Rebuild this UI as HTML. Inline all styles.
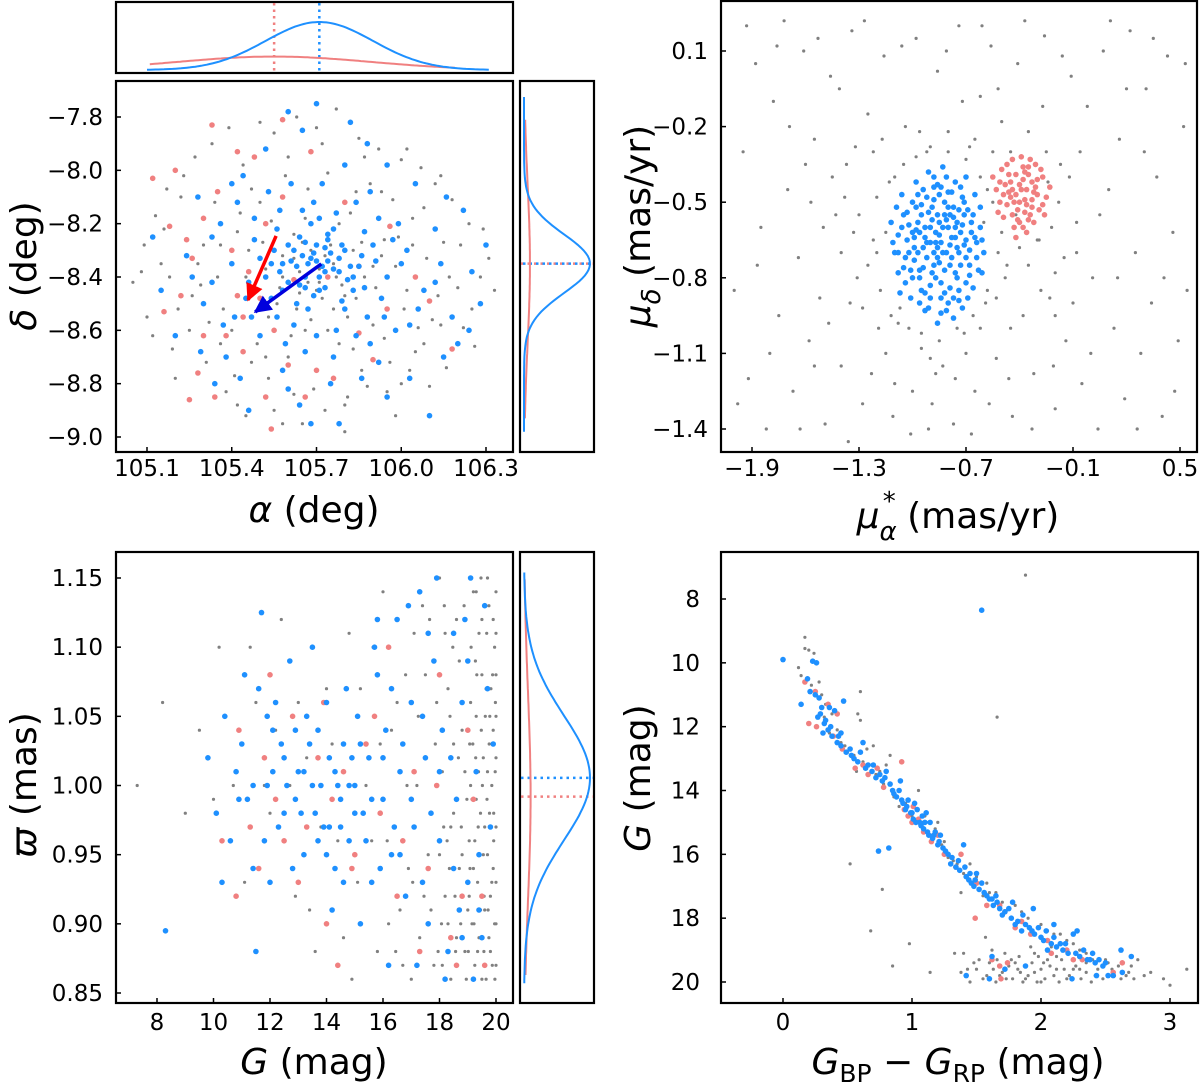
<!DOCTYPE html>
<html><head><meta charset="utf-8">
<style>
html,body{margin:0;padding:0;background:#fff;}
svg{display:block;font-family:"DejaVu Sans","Liberation Sans",sans-serif;}
</style></head>
<body>
<svg id="fig" width="1200" height="1082" viewBox="0 0 1200 1082" xmlns="http://www.w3.org/2000/svg"></svg>
<script>
// ---------- DATA ----------
// Panel 1: alpha (deg), delta (deg)
const p1Gray=[105.05,-8.42,105.08,-8.38,105.10,-8.55,105.13,-8.17,105.17,-8.07,105.19,-8.67,105.22,-8.10,105.25,-8.60,105.27,-7.95,105.29,-8.43,105.31,-8.72,105.33,-7.90,105.36,-8.28,105.37,-8.52,105.39,-7.84,105.41,-8.77,105.43,-8.16,105.45,-8.92,105.47,-8.07,105.49,-8.65,105.50,-7.82,105.52,-8.37,105.53,-8.78,105.55,-7.86,105.56,-8.50,105.58,-8.95,105.59,-8.02,105.61,-8.62,105.63,-7.80,105.64,-8.46,105.65,-8.95,105.67,-8.07,105.68,-8.56,105.70,-7.84,105.71,-8.37,105.73,-8.90,105.74,-8.01,105.76,-8.52,105.77,-7.77,105.79,-8.43,105.80,-8.98,105.82,-8.16,105.83,-8.67,105.85,-7.88,105.86,-8.27,105.88,-8.81,105.89,-8.05,105.91,-8.44,105.92,-7.92,105.94,-8.63,105.95,-8.83,105.97,-8.11,105.98,-8.36,106.00,-7.96,106.01,-8.52,106.03,-8.75,106.04,-8.18,106.06,-8.59,106.07,-7.99,106.09,-8.33,106.10,-8.81,106.12,-8.05,106.13,-8.47,106.15,-8.27,106.16,-8.74,106.18,-8.11,106.20,-8.44,106.22,-8.59,106.24,-8.20,106.26,-8.66,106.28,-8.40,106.31,-8.33,106.33,-8.45,105.15,-8.35,105.21,-8.52,105.35,-8.40,105.46,-8.30,105.54,-8.19,105.57,-8.44,105.62,-8.24,105.66,-8.60,105.72,-8.48,105.75,-8.28,105.81,-8.55,105.87,-8.40,105.93,-8.32,106.02,-8.45,106.08,-8.65,106.14,-8.58,105.40,-8.60,105.48,-8.45,105.60,-8.70,105.78,-8.65,105.68,-8.30,105.71,-8.42,105.64,-8.38,105.76,-8.35,105.50,-8.12,105.84,-8.08,105.30,-8.28,106.04,-8.28,105.62,-8.84,105.80,-8.88,105.42,-8.88,105.98,-8.92];
const p1GrayExtra=[105.09,-8.28,105.12,-8.62,105.16,-8.22,105.20,-8.78,105.23,-8.02,105.26,-8.47,105.32,-8.57,105.34,-8.12,105.38,-8.83,105.42,-8.23,105.44,-7.98,105.47,-8.72,105.51,-8.27,105.55,-8.90,105.58,-8.32,105.60,-7.95,105.63,-8.52,105.66,-8.18,105.69,-8.82,105.72,-7.90,105.74,-8.60,105.78,-8.20,105.81,-8.85,105.84,-8.48,105.87,-7.95,105.90,-8.58,105.93,-8.08,105.96,-8.72,105.99,-8.25,106.02,-7.92,106.05,-8.68,106.08,-8.14,106.11,-8.56,106.14,-8.02,106.17,-8.40,106.21,-8.28,106.25,-8.52,106.29,-8.22,105.18,-8.40,105.28,-8.35,105.45,-8.40,105.53,-8.55,105.65,-8.27,105.70,-8.45,105.77,-8.40,105.83,-8.30,105.90,-8.36,105.62,-8.33,105.73,-8.32,105.67,-8.42,105.80,-8.47,105.58,-8.40,105.94,-8.26,105.52,-8.70,105.86,-8.75,105.36,-8.65,106.00,-8.80];
const p1Red=[105.12,-8.03,105.18,-8.21,105.22,-8.47,105.16,-8.53,105.26,-8.33,105.30,-8.18,105.35,-8.08,105.40,-8.30,105.44,-8.55,105.38,-8.62,105.48,-7.95,105.52,-8.20,105.58,-8.10,105.62,-8.41,105.30,-8.62,105.28,-8.76,105.34,-8.85,105.44,-8.68,105.52,-8.85,105.60,-8.73,105.70,-8.75,105.76,-8.78,105.90,-8.71,105.85,-8.61,105.95,-8.52,106.05,-8.40,106.10,-8.49,106.18,-8.67,105.54,-8.97,105.68,-7.93,105.42,-7.93,105.33,-7.83,105.46,-8.38,105.20,-8.00,105.25,-8.86,105.74,-8.40,105.80,-8.12,105.96,-8.21,105.85,-8.36,105.42,-8.47,105.50,-8.48,105.55,-8.60,105.66,-8.85,105.58,-7.81,105.24,-8.26];
const p1Blue=[105.62,-8.30,105.68,-8.33,105.72,-8.36,105.75,-8.31,105.66,-8.40,105.70,-8.28,105.78,-8.38,105.64,-8.25,105.58,-8.35,105.80,-8.30,105.73,-8.44,105.69,-8.47,105.60,-8.42,105.85,-8.36,105.55,-8.30,105.76,-8.22,105.83,-8.45,105.67,-8.52,105.90,-8.28,105.52,-8.40,105.71,-8.18,105.95,-8.40,105.48,-8.26,105.62,-8.58,105.88,-8.55,105.77,-8.60,105.45,-8.48,106.02,-8.30,105.57,-8.15,105.84,-8.12,105.40,-8.35,106.08,-8.45,105.66,-8.68,105.92,-8.18,105.50,-8.62,105.98,-8.60,105.36,-8.20,106.12,-8.22,105.72,-8.05,105.58,-8.75,105.86,-8.78,105.30,-8.50,106.18,-8.55,105.44,-8.02,106.05,-8.05,105.64,-8.88,105.95,-8.85,105.24,-8.32,106.25,-8.38,105.38,-8.70,106.15,-8.70,105.52,-7.92,105.88,-7.90,105.78,-8.95,105.28,-8.10,106.22,-8.15,105.20,-8.62,106.28,-8.50,105.46,-8.90,106.10,-8.92,105.60,-7.78,105.82,-7.82,105.12,-8.25,106.30,-8.28,105.34,-8.80,105.15,-8.45,106.20,-8.65,105.70,-7.75,105.56,-8.22,105.74,-8.26,105.81,-8.41,105.63,-8.36,105.68,-8.20,105.79,-8.49,105.54,-8.48,105.87,-8.23,105.93,-8.48,105.47,-8.55,105.99,-8.20,105.42,-8.12,106.03,-8.58,105.61,-8.05,105.89,-8.65,105.33,-8.42,106.14,-8.35,105.59,-8.65,105.76,-8.70,105.69,-8.12,105.74,-8.34,105.71,-8.40,105.65,-8.32,105.78,-8.33,105.60,-8.28,105.82,-8.36,105.66,-8.44,105.73,-8.29,105.86,-8.32,105.57,-8.38];
const p1BlueExtra=[105.67,-8.35,105.70,-8.34,105.73,-8.38,105.69,-8.31,105.76,-8.37,105.64,-8.43,105.79,-8.28,105.71,-8.45,105.61,-8.34,105.83,-8.40,105.66,-8.27,105.74,-8.24,105.58,-8.45,105.87,-8.44,105.54,-8.35,105.80,-8.52,105.63,-8.50,105.91,-8.34,105.50,-8.33,105.77,-8.16,105.65,-8.15,105.94,-8.55,105.46,-8.42,105.84,-8.62,105.56,-8.55,106.00,-8.35,105.41,-8.55,105.97,-8.26,105.53,-8.08,105.89,-8.08,105.70,-8.62,106.06,-8.52,105.37,-8.58,105.48,-8.18,105.92,-8.72,105.60,-8.82,106.12,-8.42,105.26,-8.40,105.75,-8.80,105.68,-8.95,105.80,-7.98,105.65,-7.85,106.16,-8.10,105.29,-8.68,105.43,-8.78,106.03,-8.78,105.95,-7.98,105.40,-8.05,105.33,-8.25,106.24,-8.60];
const p1Arrows=[[105.557,-8.246,105.458,-8.486,'#ff0000'],[105.717,-8.351,105.483,-8.531,'#0000dd']];
const p1XTicks=[105.1,105.4,105.7,106.0,106.3];
const p1XLabels=['105.1','105.4','105.7','106.0','106.3'];
const p1YTicks=[-7.8,-8.0,-8.2,-8.4,-8.6,-8.8,-9.0];
const p1YLabels=['−7.8','−8.0','−8.2','−8.4','−8.6','−8.8','−9.0'];
// Marginal gaussians: [mu, sigma, amp, from, to]
const topBlueFit=[105.71,0.19,1.0,105.1,106.31];
const topRedFit=[105.55,0.34,0.28,105.11,106.19];
const rightBlueFit=[-8.35,0.11,1.0,-7.725,-8.98];
const rightRedFit=[-8.35,0.30,0.09,-7.81,-8.93];
// Panel 2: pmra, pmdec
const p2Gray=[-2.00,-0.85,-1.95,-0.30,-1.92,-1.20,-1.88,0.05,-1.85,-0.60,-1.82,-1.40,-1.78,-0.10,-1.75,-0.95,-1.72,0.22,-1.70,-0.45,-1.67,-1.25,-1.64,-0.72,-1.61,0.10,-1.58,-1.05,-1.55,-0.25,-1.52,-0.88,-1.49,-1.38,-1.46,0.00,-1.43,-0.55,-1.40,-1.15,-1.37,-0.35,-1.34,0.18,-1.31,-0.80,-1.28,-1.30,-1.25,-0.15,-1.22,-0.65,-1.19,-1.00,-1.16,0.08,-1.13,-0.42,-1.10,-1.22,-1.07,-0.92,-1.04,-0.20,-1.01,-1.42,-0.98,0.15,-0.95,-1.08,-0.92,-0.30,-0.89,-1.30,-0.86,0.02,-0.83,-1.15,-0.80,-0.22,-0.77,-1.38,-0.74,0.20,-0.71,-1.02,-0.68,-0.28,-0.65,-1.25,-0.62,-0.08,-0.59,-0.90,-0.56,0.12,-0.53,-1.12,-0.50,-0.18,-0.47,-0.75,-0.44,-1.35,-0.41,0.05,-0.38,-0.95,-0.35,-0.22,-0.32,-1.18,-0.29,-0.65,-0.26,0.16,-0.23,-0.88,-0.20,-1.32,-0.17,-0.35,-0.14,-1.05,-0.11,0.00,-0.08,-0.58,-0.05,-1.22,-0.02,-0.12,0.01,-0.80,0.04,-1.40,0.07,0.10,0.10,-0.45,0.13,-1.00,0.16,-0.25,0.19,-1.28,0.22,0.18,0.25,-0.70,0.28,-1.10,0.31,-0.05,0.34,-0.90,0.37,-0.40,0.40,-1.35,0.43,0.08,0.46,-0.62,0.49,-1.05,0.52,-0.20,0.54,-0.85,-1.30,-0.55,-1.25,-0.75,-1.20,-0.48,-1.18,-0.85,-1.15,-0.62,-1.12,-0.95,-1.10,-0.40,-1.08,-0.98,-1.05,-0.35,-1.02,-1.00,-0.98,-0.32,-0.95,-1.02,-0.90,-0.28,-0.85,-1.05,-0.80,-0.30,-0.75,-1.00,-0.70,-0.33,-0.66,-0.95,-0.62,-0.40,-0.58,-0.85,-0.55,-0.50,-0.52,-0.70,-0.50,-0.62,-0.48,-0.80,-0.45,-0.30,-0.40,-0.68,-0.35,-0.75,-0.30,-0.65,-0.25,-0.30,-0.22,-0.60,-0.18,-0.50,-0.15,-0.72,-0.55,-0.30,-0.60,-0.58,-1.22,-0.30,-1.35,-0.90,-1.40,-0.70,-1.45,-0.40,-0.28,-0.85,-0.12,-0.40,-0.65,-0.25,-1.15,-1.10,-0.90,-1.12,-0.70,-1.10,-0.45,-1.00,-0.20,-0.95,-1.50,-0.60,-0.08,-0.70,-1.60,-0.35,-1.55,-1.15];
const p2GrayExtra=[-1.98,-1.30,-1.93,0.20,-1.87,-0.75,-1.80,-1.10,-1.76,0.12,-1.69,-0.20,-1.63,-1.40,-1.57,-0.50,-1.53,0.15,-1.47,-0.98,-1.41,-0.05,-1.36,-1.45,-1.32,-0.28,-1.27,0.22,-1.23,-1.18,-1.17,-0.25,-1.11,-1.35,-1.06,0.12,-1.00,-1.25,-0.96,-0.22,-0.91,-1.40,-0.87,-1.18,-0.81,0.10,-0.76,-1.20,-0.72,-0.10,-0.67,-1.42,-0.61,0.20,-0.57,-1.30,-0.52,-0.05,-0.46,-1.20,-0.42,-0.55,-0.37,0.22,-0.33,-1.40,-0.27,-0.12,-0.21,-1.15,-0.16,0.08,-0.10,-0.90,-0.06,-0.30,0.00,-1.10,0.05,-0.55,0.11,0.22,0.15,-0.80,0.20,-0.05,0.26,-1.40,0.30,-0.30,0.35,0.15,0.41,-0.80,0.47,-1.25,0.53,0.05,-1.33,-0.62,-1.28,-0.92,-1.20,-0.70,-0.58,-0.45,-0.53,-0.88,-0.20,-0.78,-0.24,-0.42,-1.38,-0.48,-0.62,-1.00];
const p2Red=[-0.39,-0.45,-0.33,-0.42,-0.45,-0.48,-0.36,-0.51,-0.42,-0.39,-0.30,-0.47,-0.48,-0.43,-0.38,-0.36,-0.34,-0.55,-0.44,-0.55,-0.27,-0.40,-0.51,-0.50,-0.40,-0.58,-0.31,-0.35,-0.47,-0.35,-0.25,-0.48,-0.53,-0.45,-0.36,-0.45,-0.42,-0.47,-0.35,-0.39,-0.45,-0.42,-0.29,-0.53,-0.49,-0.56,-0.39,-0.32,-0.32,-0.58,-0.23,-0.44,-0.55,-0.40,-0.43,-0.60,-0.37,-0.49,-0.41,-0.53,-0.33,-0.49,-0.47,-0.51,-0.28,-0.37,-0.50,-0.37,-0.36,-0.62,-0.44,-0.33,-0.26,-0.55,-0.38,-0.41,-0.31,-0.44,-0.46,-0.46,-0.52,-0.54,-0.34,-0.33,-0.42,-0.64,-0.40,-0.50,-0.35,-0.57];
const p2RedExtra=[-0.40,-0.43,-0.37,-0.54,-0.32,-0.46,-0.46,-0.39,-0.43,-0.50,-0.30,-0.41,-0.49,-0.47,-0.35,-0.36,-0.41,-0.57,-0.27,-0.51,-0.38,-0.60,-0.44,-0.45,-0.33,-0.52,-0.51,-0.42,-0.37,-0.38];
const p2Blue=[-0.85,-0.63,-0.80,-0.60,-0.90,-0.66,-0.75,-0.58,-0.95,-0.55,-0.70,-0.65,-1.00,-0.62,-0.82,-0.50,-0.88,-0.75,-0.78,-0.72,-0.92,-0.48,-0.72,-0.48,-1.02,-0.70,-0.68,-0.75,-0.84,-0.82,-0.96,-0.80,-0.74,-0.85,-1.05,-0.55,-0.66,-0.55,-0.86,-0.43,-0.98,-0.42,-0.76,-0.42,-1.08,-0.63,-0.64,-0.66,-0.90,-0.88,-0.80,-0.90,-1.04,-0.82,-0.70,-0.82,-0.86,-0.55,-0.79,-0.67,-0.93,-0.60,-0.73,-0.62,-0.99,-0.73,-0.83,-0.70,-0.77,-0.52,-0.89,-0.52,-0.94,-0.68,-0.68,-0.69,-1.10,-0.70,-0.62,-0.60,-0.81,-0.40,-0.91,-0.38,-1.06,-0.47,-0.65,-0.47,-0.84,-0.94,-0.96,-0.90,-0.72,-0.92,-1.08,-0.78,-0.61,-0.78,-0.87,-0.62,-0.76,-0.78,-1.00,-0.50,-0.71,-0.55,-0.97,-0.58,-0.82,-0.77,-0.88,-0.70,-0.78,-0.64,-0.92,-0.72,-1.03,-0.65,-0.67,-0.62,-0.85,-0.47,-0.74,-0.70,-0.95,-0.85,-0.79,-0.84,-1.01,-0.88,-0.66,-0.84,-1.12,-0.58,-0.60,-0.70,-0.83,-0.36,-0.94,-0.45,-0.70,-0.40,-1.09,-0.52,-0.86,-0.98,-0.77,-0.96,-0.98,-0.52,-0.81,-0.57,-0.90,-0.60,-0.73,-0.75,-0.87,-0.80,-0.99,-0.64,-0.64,-0.72,-0.80,-0.46,-1.05,-0.76,-0.69,-0.88,-0.93,-0.93,-1.11,-0.66,-0.62,-0.52,-0.84,-0.66,-0.76,-0.60,-0.91,-0.54,-0.96,-0.77,-0.71,-0.50,-0.88,-0.44,-1.07,-0.86,-0.82,-0.86,-0.75,-0.68,-0.97,-0.70,-0.86,-0.72,-0.79,-0.55];
const p2BlueExtra=[-0.83,-0.60,-0.87,-0.66,-0.81,-0.70,-0.89,-0.57,-0.77,-0.56,-0.93,-0.64,-0.72,-0.59,-0.98,-0.61,-0.85,-0.74,-0.80,-0.52,-0.94,-0.76,-0.70,-0.72,-1.02,-0.59,-0.75,-0.80,-0.90,-0.83,-0.84,-0.88,-0.97,-0.47,-0.78,-0.46,-0.67,-0.58,-1.04,-0.72,-0.63,-0.77,-0.91,-0.92,-0.74,-0.89,-1.06,-0.60,-0.88,-0.40,-0.73,-0.44,-1.00,-0.80,-0.65,-0.64,-0.82,-0.55,-0.95,-0.51,-0.79,-0.75,-0.86,-0.68,-0.92,-0.66,-0.71,-0.67,-0.99,-0.68,-0.76,-0.64,-0.89,-0.78,-1.08,-0.70,-0.69,-0.53,-0.84,-0.44,-0.96,-0.62,-0.81,-0.93,-0.61,-0.65,-1.03,-0.54,-0.77,-0.88,-0.88,-0.49,-0.93,-0.86,-0.68,-0.79,-0.85,-0.58,-0.74,-0.53,-1.01,-0.77];
const p2XTicks=[-1.9,-1.3,-0.7,-0.1,0.5];
const p2XLabels=['−1.9','−1.3','−0.7','−0.1','0.5'];
const p2YTicks=[0.1,-0.2,-0.5,-0.8,-1.1,-1.4];
const p2YLabels=['0.1','−0.2','−0.5','−0.8','−1.1','−1.4'];
// Panel 3: G, parallax
const p3Gray=[9.0,0.98,7.3,1.00,8.2,1.06,9.5,1.04,10.2,1.10,10.7,1.00,11.1,0.93,11.5,1.06,12.0,0.98,12.4,1.12,12.9,0.92,13.3,1.02,13.6,0.88,14.0,1.07,14.4,0.96,14.8,1.11,15.1,0.93,15.4,1.00,15.8,0.88,16.0,1.14,16.3,1.04,16.6,0.91,16.8,1.08,17.0,0.86,17.2,1.00,17.4,1.13,17.6,0.95,17.8,0.87,18.0,1.15,18.1,1.01,18.2,0.92,18.3,1.07,18.4,0.86,18.5,0.98,18.6,1.12,18.7,0.94,18.8,1.04,18.9,0.88,19.0,1.09,19.05,0.96,19.1,1.00,19.15,0.90,19.2,1.14,19.25,0.87,19.3,1.05,19.35,0.93,19.4,1.11,19.45,0.98,19.5,0.86,19.55,1.02,19.6,0.91,19.65,1.07,19.7,0.95,19.75,1.13,19.8,0.88,19.85,1.00,19.9,0.94,19.95,1.10,20.0,0.97,20.0,0.87,19.9,1.04,19.8,0.92,19.7,1.01,19.6,0.97,19.5,1.08,19.4,0.89,19.3,0.99,19.2,0.94,19.1,1.06,19.0,0.91,18.9,1.01,18.8,0.95,18.7,1.09,18.6,0.89,18.5,1.03,18.4,0.97,18.3,0.90,18.2,1.11,18.1,0.87,18.0,0.95,17.9,1.06,17.7,0.91,17.5,1.08,17.3,0.89,17.1,1.11,16.9,0.94,16.7,0.87,16.5,1.06,16.2,0.90,15.9,1.03,15.6,0.96,15.2,1.07,14.6,0.89,14.2,1.03,13.8,0.97,13.0,1.06,12.2,1.04,11.8,1.00,10.0,0.99,19.95,0.90,19.85,0.93,19.75,0.89,19.65,0.86,19.55,0.95,19.45,0.91,19.35,0.88,19.25,0.96,19.15,0.99,19.05,0.92,19.9,1.12,19.7,1.15,19.5,1.12,19.3,1.14,19.98,1.06,19.88,1.08,19.78,1.05,19.68,0.99,19.58,0.92,19.48,1.04,19.38,1.01,19.28,1.02,19.18,1.03,19.08,0.94,18.95,0.86,18.75,0.90,18.55,0.92,18.35,0.94,18.15,0.97,17.95,0.88,20.0,1.02,20.0,1.08,20.0,0.93,20.0,1.14,19.92,0.98];
const p3GrayExtra=[19.02,0.88,19.12,1.10,19.22,0.90,19.32,1.08,19.42,0.95,19.52,1.00,19.62,1.05,19.72,0.91,19.82,1.07,19.92,0.96,19.97,1.01,19.87,0.87,19.77,0.98,19.67,1.11,19.57,0.88,19.47,1.15,19.37,0.97,19.27,1.09,19.17,0.86,19.07,1.03,18.97,0.99,18.87,1.13,18.77,0.97,18.67,1.02,18.57,0.88,18.47,1.10,18.37,1.05,18.27,0.96,18.17,1.13,18.07,0.90,17.85,1.03,17.65,1.12,17.45,0.92,17.25,1.05,17.05,0.93,16.85,1.00,16.45,0.88,16.15,0.96,15.65,1.10,14.9,0.86,13.4,0.91,12.7,1.00,11.3,1.10,20.0,0.90,20.0,1.05,20.0,1.11,19.96,0.86,19.76,1.03];
const p3Red=[10.3,0.96,10.9,1.04,11.3,0.97,11.8,1.02,12.2,0.99,12.8,1.05,13.3,0.97,13.7,1.02,14.2,0.99,14.6,1.01,14.9,0.94,15.4,1.03,15.9,0.98,16.2,1.10,16.7,0.96,17.1,1.01,17.6,0.94,18.0,1.08,18.4,0.89,18.8,0.92,19.2,0.99,19.6,0.87,10.8,0.92,12.0,1.08,13.0,0.93,14.0,0.90,15.0,0.95,16.5,0.92,17.3,0.88,18.6,0.87,19.0,1.04,11.6,0.94,13.9,1.06,15.7,1.05,17.9,1.00,14.4,0.87,12.5,0.96,19.5,0.92];
const p3Blue=[9.8,1.02,10.1,0.98,10.4,1.05,10.6,0.96,10.8,1.01,11.0,1.03,11.2,0.99,11.4,0.94,11.6,1.07,11.7,1.125,11.9,1.00,12.1,1.04,12.3,0.97,12.5,1.02,12.7,1.09,12.9,0.99,13.0,1.01,13.2,0.95,13.4,1.03,13.6,0.98,13.8,1.00,14.0,1.06,14.1,0.97,14.3,1.01,14.5,0.99,14.6,1.03,14.8,0.96,15.0,1.00,15.1,1.05,15.3,0.98,15.5,1.02,15.6,0.93,15.8,1.08,16.0,0.99,16.1,1.04,16.3,0.95,16.5,1.12,16.6,1.01,16.8,0.92,17.0,1.06,17.1,0.97,17.3,1.14,17.5,1.02,17.6,0.90,17.8,1.09,18.0,0.96,18.1,1.04,18.3,0.88,18.5,1.11,18.6,0.99,18.8,1.06,19.0,0.93,19.1,1.15,19.3,1.01,19.5,0.89,19.7,1.07,19.8,0.97,8.3,0.895,11.5,0.88,12.0,0.93,13.5,1.10,14.2,0.91,15.2,0.90,16.2,0.87,17.2,0.87,18.2,0.86,19.2,0.86,13.1,0.98,14.4,1.00,14.9,1.02,15.4,0.96,12.6,1.00,13.9,0.97,16.7,1.03,17.7,0.98,18.4,1.02,19.4,0.95,10.3,0.93,11.1,1.08,12.2,1.06,15.7,1.10,16.9,1.13,17.9,1.15,18.9,1.12,19.6,1.13,14.7,1.07,13.3,1.05,12.8,0.94,11.8,0.96,16.4,0.97,17.4,1.05,18.7,0.91,19.9,1.03,15.9,0.94,14.0,0.95,12.4,1.03];
const p3BlueExtra=[12.9,1.04,13.5,1.00,13.7,0.96,14.1,1.02,14.5,0.97,14.3,0.94,15.0,0.98,15.2,1.03,15.6,0.99,14.8,1.00,13.2,1.01,12.5,0.98,11.9,1.05,11.4,1.00,16.0,1.02,16.6,0.95,17.0,0.99,17.4,0.93,18.0,1.01,18.5,0.94,19.0,1.09,19.4,0.91,17.6,1.11,18.8,0.89,16.3,1.07,15.8,1.12,13.7,1.04,14.6,0.93,12.1,1.01,10.9,0.99];
const p3XTicks=[8,10,12,14,16,18,20];
const p3XLabels=['8','10','12','14','16','18','20'];
const p3YTicks=[1.15,1.10,1.05,1.00,0.95,0.90,0.85];
const p3YLabels=['1.15','1.10','1.05','1.00','0.95','0.90','0.85'];
const r3BlueFit=[1.0055,0.045,1.0,1.154,0.857];
const r3RedFit=[0.992,0.075,0.1,1.149,0.863];
// Panel 4: BP-RP, G
const p4Gray=[0.17,9.2,0.17,9.55,0.2,9.6,0.24,9.7,0.12,10.15,0.14,10.4,0.22,10.7,0.28,10.6,0.30,11.0,0.33,11.3,0.60,10.9,0.38,11.6,0.42,12.1,0.45,12.5,0.50,12.8,0.58,11.6,0.60,11.8,0.65,12.7,0.70,12.6,0.57,13.4,0.75,13.4,0.80,13.2,0.83,12.9,0.86,14.2,0.90,14.5,1.05,14.0,1.10,14.8,1.18,15.2,1.20,15.0,1.25,15.6,1.32,16.2,1.35,16.3,1.38,17.2,1.45,16.3,1.50,16.7,1.55,17.3,1.58,16.9,1.65,17.2,1.80,17.6,1.85,17.8,2.00,18.2,2.05,18.4,2.15,18.5,2.20,18.7,2.30,19.0,2.40,19.3,2.60,19.5,2.75,19.3,2.85,19.7,2.95,19.9,3.00,20.1,3.13,19.6,0.52,16.3,0.77,17.1,0.68,18.4,0.98,18.8,0.85,19.5,1.14,19.7,1.33,19.1,1.40,19.1,1.57,18.6,1.88,7.25,1.66,11.7,1.38,19.7,1.45,20.0,1.50,19.6,1.55,19.9,1.60,19.4,1.65,20.0,1.70,19.7,1.75,19.5,1.78,19.9,1.82,19.6,1.86,20.0,1.90,19.8,1.93,19.4,1.97,20.0,2.00,19.6,2.03,19.9,2.07,19.5,2.10,19.8,2.14,20.0,2.18,19.6,2.22,19.8,2.27,19.5,2.31,19.9,2.35,19.7,2.39,20.0,2.44,19.6,2.48,19.9,2.52,19.4,2.57,19.8,2.66,19.8,2.70,19.5,2.80,19.8,1.62,19.0,1.72,19.1,1.83,19.2,1.95,19.1,2.05,19.3,2.12,19.2,2.25,19.6,2.35,19.4,1.52,19.3,1.68,19.8,1.88,19.9,2.00,20.0,1.77,19.3,1.92,18.9,2.08,18.9];
const p4GrayExtra=[0.32,11.7,0.36,12.2,0.48,12.6,0.55,12.9,0.62,13.1,0.72,13.5,0.78,13.8,0.95,14.4,1.00,14.8,1.08,15.0,1.15,15.4,1.23,15.7,1.28,16.1,1.40,16.6,1.48,16.9,1.60,17.2,1.70,17.5,1.90,18.0,1.98,18.3,2.10,18.5,2.25,18.8,2.35,19.1,2.50,19.3,2.68,19.7,1.43,19.6,1.58,19.8,1.63,19.6,1.73,19.9,1.80,19.4,1.95,19.7,2.02,19.4,2.12,19.6,2.20,19.9,2.30,19.6,2.42,19.8,2.55,19.6,2.62,19.9,2.72,19.9,1.48,19.4,1.98,19.2,2.16,19.3,1.66,19.3,1.84,19.7];
const p4Red=[0.17,10.6,0.25,10.9,0.20,11.9,0.26,12.0,0.35,11.3,0.42,11.6,0.39,12.3,0.46,12.7,0.56,13.3,0.66,13.5,0.73,13.3,0.78,13.9,0.92,13.1,0.94,14.6,0.97,14.8,1.00,15.0,1.05,14.9,1.09,15.3,1.15,15.6,1.25,16.0,1.34,16.4,1.38,16.0,1.50,16.9,1.58,17.6,1.68,17.6,1.72,17.8,1.85,18.1,1.92,18.5,2.05,18.7,2.20,19.0,2.25,19.3,2.32,19.3,2.56,19.7,2.63,19.4,1.62,19.3,1.68,19.5,1.74,19.4,1.69,19.9,1.49,18.0,2.08,19.1,1.80,18.3,1.01,14.5,0.62,13.2,1.20,15.4];
const p4Blue=[0.0,9.9,0.14,11.3,0.19,10.5,0.23,9.95,0.21,10.9,0.28,11.1,0.30,11.4,0.27,11.7,0.32,11.9,0.35,12.1,0.31,12.2,0.38,12.3,0.42,12.5,0.40,11.5,0.47,11.2,0.45,12.6,0.49,12.8,0.53,12.9,0.58,13.1,0.62,12.5,0.64,13.3,0.69,13.4,0.72,13.6,0.77,13.7,0.80,13.4,0.83,13.8,0.85,14.0,0.88,14.2,0.91,13.7,0.93,14.4,0.96,14.5,0.99,14.7,1.01,14.9,1.04,14.6,1.06,15.0,1.09,15.2,1.11,14.7,1.13,15.4,1.16,15.5,1.18,15.3,1.20,15.7,1.24,15.8,1.28,16.0,1.31,16.1,1.34,16.4,1.37,16.5,1.40,15.7,1.42,16.7,1.46,16.9,1.50,16.6,1.52,17.1,1.56,17.2,1.60,17.4,1.63,17.6,1.68,17.7,1.72,17.8,1.77,18.0,1.82,18.1,1.86,17.9,1.91,18.3,1.95,18.5,2.00,18.6,2.04,18.4,2.08,18.8,2.12,18.9,2.17,19.0,2.21,19.1,2.25,18.5,2.30,19.2,2.36,19.3,2.42,19.4,2.48,19.5,2.56,19.8,2.62,19.0,2.70,19.2,2.63,19.7,1.54,8.35,0.74,15.9,0.82,15.8,1.42,19.8,1.60,19.9,1.72,19.6,1.88,19.5,2.24,19.9,2.43,19.8,2.52,19.8,1.62,19.2,0.26,10.0,0.55,13.0,0.97,14.3,1.02,14.4,1.08,14.8,1.14,15.0,1.22,15.4,1.45,16.6,1.48,17.0,1.65,17.3,1.78,17.5,1.94,17.7,2.10,18.2,2.28,18.4,2.40,19.1,2.05,19.0,1.85,18.4,0.36,11.4,0.60,12.8,0.90,14.0];
const p4BlueExtra=[0.33,11.8,0.37,12.0,0.43,12.3,0.52,12.7,0.66,13.2,0.75,13.5,0.86,14.1,0.92,14.3,0.95,14.6,1.00,14.7,1.03,15.0,1.07,15.1,1.10,15.0,1.12,15.3,1.17,15.4,1.21,15.6,1.26,15.9,1.30,16.3,1.36,16.2,1.41,16.4,1.44,16.8,1.49,16.8,1.54,16.9,1.58,17.3,1.62,17.4,1.66,17.5,1.70,17.9,1.75,17.7,1.80,18.2,1.88,18.2,1.93,18.4,1.98,18.3,2.02,18.7,2.10,18.6,2.15,18.8,2.19,18.8,2.27,19.1,2.33,19.0,2.38,19.3,2.45,19.3,2.50,19.4,0.25,11.0,0.29,11.6,0.45,12.2,0.70,13.2,0.79,13.6];
const p4XTicks=[0,1,2,3];
const p4XLabels=['0','1','2','3'];
const p4YTicks=[8,10,12,14,16,18,20];
const p4YLabels=['8','10','12','14','16','18','20'];

// ---------- RENDER ----------
const NS='http://www.w3.org/2000/svg';
const svg=document.getElementById('fig');
const GRAY='#808080',RED='#f08080',BLUE='#1e90ff';
function mk(tag,attrs,parent){const e=document.createElementNS(NS,tag);for(const k in attrs)e.setAttribute(k,attrs[k]);(parent||svg).appendChild(e);return e;}
function lin(d0,d1,r0,r1){return v=>r0+(v-d0)*(r1-r0)/(d1-d0);}

const x1=lin(105.1,106.3,147,486), y1=lin(-7.8,-9.0,117,437);
const x2=lin(-1.9,0.5,752,1180), y2=lin(0.1,-1.4,51,429);
const x3=lin(8,20,157,496), y3=lin(1.15,0.85,578,993);
const x4=lin(0,3,783,1170), y4=lin(8,20,599,982);
const ym1=lin(0,1,70,22);
const xmR=lin(0,1,524,590);

function clip(id,x,y,w,h){const d=mk('defs',{});const c=mk('clipPath',{id:id},d);mk('rect',{x:x,y:y,width:w,height:h},c);}
function scatter(g,arr,xs,ys,r,color,name){
  for(let i=0;i<arr.length;i+=2){
    const c=mk('circle',{cx:xs(arr[i]).toFixed(1),cy:ys(arr[i+1]).toFixed(1),r:r,fill:color},g);
    
    
  }
}
function frame(x,y,w,h,name){const r=mk('rect',{x:x,y:y,width:w,height:h,fill:'none',stroke:'#000','stroke-width':2.2});}
function xTicks(ticks,labels,xs,bottom,ly,name){
  const g=mk('g',{});
  ticks.forEach((t,i)=>{const x=xs(t);
    mk('line',{x1:x,x2:x,y1:bottom,y2:bottom-5,stroke:'#000','stroke-width':1.5},g);
    const tx=mk('text',{x:x,y:ly,'font-size':23,'text-anchor':'middle',fill:'#000'},g);tx.textContent=labels[i];
    });
}
function yTicks(ticks,labels,ys,left,lx,name){
  const g=mk('g',{});
  ticks.forEach((t,i)=>{const y=ys(t);
    mk('line',{x1:left,x2:left+5,y1:y,y2:y,stroke:'#000','stroke-width':1.5},g);
    const tx=mk('text',{x:lx,y:y+8,'font-size':23,'text-anchor':'end',fill:'#000'},g);tx.textContent=labels[i];
    });
}
function gaussPath(fit,valScale,densScale,vertical){
  const [mu,s,a,f,t]=fit;let d='';const n=120;
  for(let i=0;i<=n;i++){const v=f+(t-f)*i/n;const dens=a*Math.exp(-0.5*((v-mu)/s)**2);
    const p=vertical?[densScale(dens),valScale(v)]:[valScale(v),densScale(dens)];
    d+=(i?'L':'M')+p[0].toFixed(1)+','+p[1].toFixed(1);}
  return d;
}
function curve(d,color,name){const p=mk('path',{d:d,fill:'none',stroke:color,'stroke-width':2});}
function dotted(a,b,c,d,color,name){const l=mk('line',{x1:a,y1:b,x2:c,y2:d,stroke:color,'stroke-width':2.5,'stroke-dasharray':'2.5,4'});}
function label(x,y,html,size,rot,name){
  const t=mk('text',{x:x,y:y,'font-size':size,'text-anchor':'middle',fill:'#000'});
  if(rot)t.setAttribute('transform','rotate(-90 '+x+' '+y+')');
  t.innerHTML=html;return t;
}
const GR=1.6, CR=2.8;

// ---- Panel 1 ----
clip('c1',116,81,397,371);
let g=mk('g',{'clip-path':'url(#c1)'});
scatter(g,p1Gray,x1,y1,GR,GRAY,'field-star');
scatter(g,p1GrayExtra,x1,y1,GR,GRAY,'field-star');
scatter(g,p1Red,x1,y1,CR,RED,'red-member');
scatter(g,p1Blue,x1,y1,CR,BLUE,'blue-member');
scatter(g,p1BlueExtra,x1,y1,CR,BLUE,'blue-member');
const defs=mk('defs',{});
p1Arrows.forEach((a,i)=>{
  const m=mk('marker',{id:'ah'+i,viewBox:'0 0 10 10',refX:9,refY:5,markerWidth:5,markerHeight:5,orient:'auto'},defs);
  mk('path',{d:'M0,0L10,5L0,10z',fill:a[4]},m);
  const l=mk('line',{x1:x1(a[0]),y1:y1(a[1]),x2:x1(a[2]),y2:y1(a[3]),stroke:a[4],'stroke-width':3.5,'marker-end':'url(#ah'+i+')'});
  
});
frame(116,81,397,371,'sky-panel-frame');
xTicks(p1XTicks,p1XLabels,x1,452,476,'x-ticks-alpha');
yTicks(p1YTicks,p1YLabels,y1,116,103,'y-ticks-delta');
label(314,522,'<tspan font-style="italic">α</tspan> (deg)',36,false,'x-axis-title-alpha');
label(36,266,'<tspan font-style="italic">δ</tspan> (deg)',36,true,'y-axis-title-delta');

frame(116,2,397,71,'top-marginal-frame');
dotted(x1(topRedFit[0]),3,x1(topRedFit[0]),72,RED,'red-mean-alpha');
dotted(x1(topBlueFit[0]),3,x1(topBlueFit[0]),72,BLUE,'blue-mean-alpha');
curve(gaussPath(topRedFit,x1,ym1,false),RED,'red-alpha-distribution');
curve(gaussPath(topBlueFit,x1,ym1,false),BLUE,'blue-alpha-distribution');

frame(520,81,74,371,'right-marginal-frame-delta');
dotted(521,y1(rightRedFit[0]),593,y1(rightRedFit[0]),RED,'red-mean-delta');
dotted(523,y1(rightBlueFit[0]),593,y1(rightBlueFit[0]),BLUE,'blue-mean-delta');
curve(gaussPath(rightRedFit,y1,xmR,true),RED,'red-delta-distribution');
curve(gaussPath(rightBlueFit,y1,xmR,true),BLUE,'blue-delta-distribution');

// ---- Panel 2 ----
clip('c2',721,1,476,451);
g=mk('g',{'clip-path':'url(#c2)'});
scatter(g,p2Gray,x2,y2,GR,GRAY,'field-star');
scatter(g,p2GrayExtra,x2,y2,GR,GRAY,'field-star');
scatter(g,p2Red,x2,y2,CR,RED,'red-member');
scatter(g,p2RedExtra,x2,y2,CR,RED,'red-member');
scatter(g,p2Blue,x2,y2,CR,BLUE,'blue-member');
scatter(g,p2BlueExtra,x2,y2,CR,BLUE,'blue-member');
frame(721,1,476,451,'proper-motion-panel-frame');
xTicks(p2XTicks,p2XLabels,x2,452,476,'x-ticks-pmra');
yTicks(p2YTicks,p2YLabels,y2,721,708,'y-ticks-pmdec');
label(958,528,'<tspan font-style="italic">μ</tspan><tspan font-style="italic" font-size="26" dy="12">α</tspan><tspan font-size="26" dx="-14" dy="-30">*</tspan><tspan dy="18"> (mas/yr)</tspan>',36,false,'x-axis-title-pmra');
label(650,226,'<tspan font-style="italic">μ</tspan><tspan font-style="italic" font-size="26" dy="10">δ</tspan><tspan dy="-10"> (mas/yr)</tspan>',36,true,'y-axis-title-pmdec');

// ---- Panel 3 ----
clip('c3',116,552,397,451);
g=mk('g',{'clip-path':'url(#c3)'});
scatter(g,p3Gray,x3,y3,GR,GRAY,'field-star');
scatter(g,p3GrayExtra,x3,y3,GR,GRAY,'field-star');
scatter(g,p3Red,x3,y3,CR,RED,'red-member');
scatter(g,p3Blue,x3,y3,CR,BLUE,'blue-member');
scatter(g,p3BlueExtra,x3,y3,CR,BLUE,'blue-member');
frame(116,552,397,451,'parallax-panel-frame');
xTicks(p3XTicks,p3XLabels,x3,1003,1030,'x-ticks-gmag');
yTicks(p3YTicks,p3YLabels,y3,116,103,'y-ticks-parallax');
label(314,1074,'<tspan font-style="italic">G</tspan> (mag)',36,false,'x-axis-title-gmag');
label(36,785,'<tspan font-style="italic">ϖ</tspan> (mas)',36,true,'y-axis-title-parallax');

frame(520,552,74,451,'right-marginal-frame-parallax');
dotted(521,y3(r3RedFit[0]),593,y3(r3RedFit[0]),RED,'red-mean-parallax');
dotted(521,y3(r3BlueFit[0]),593,y3(r3BlueFit[0]),BLUE,'blue-mean-parallax');
curve(gaussPath(r3RedFit,y3,xmR,true),RED,'red-parallax-distribution');
curve(gaussPath(r3BlueFit,y3,xmR,true),BLUE,'blue-parallax-distribution');

// ---- Panel 4 ----
clip('c4',721,552,477,451);
g=mk('g',{'clip-path':'url(#c4)'});
scatter(g,p4Gray,x4,y4,GR,GRAY,'field-star');
scatter(g,p4GrayExtra,x4,y4,GR,GRAY,'field-star');
scatter(g,p4Red,x4,y4,CR,RED,'red-member');
scatter(g,p4Blue,x4,y4,CR,BLUE,'blue-member');
scatter(g,p4BlueExtra,x4,y4,CR,BLUE,'blue-member');
frame(721,552,477,451,'cmd-panel-frame');
xTicks(p4XTicks,p4XLabels,x4,1003,1030,'x-ticks-color');
yTicks(p4YTicks,p4YLabels,y4,721,700,'y-ticks-gmag');
label(958,1074,'<tspan font-style="italic">G</tspan><tspan font-size="25" dy="8">BP</tspan><tspan dy="-8"> − </tspan><tspan font-style="italic">G</tspan><tspan font-size="25" dy="8">RP</tspan><tspan dy="-8"> (mag)</tspan>',36,false,'x-axis-title-color');
label(650,778,'<tspan font-style="italic">G</tspan> (mag)',36,true,'y-axis-title-gmag');
</script>
</body></html>
